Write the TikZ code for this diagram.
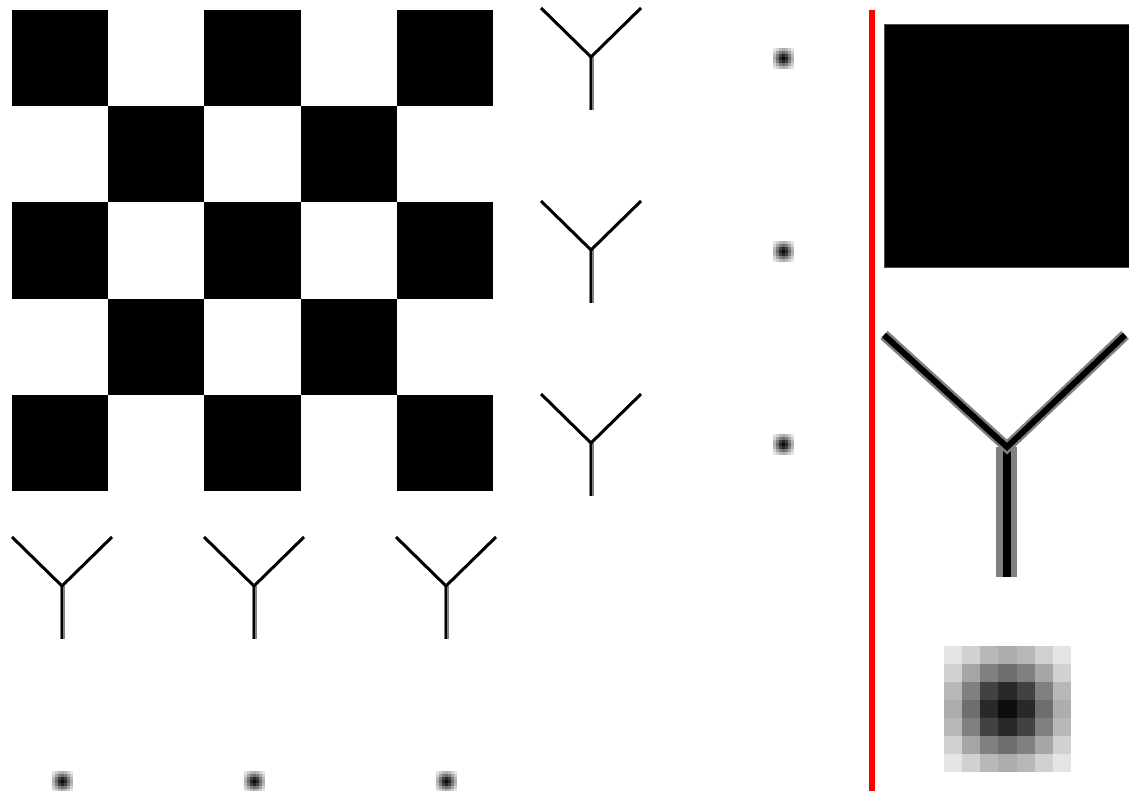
\documentclass[tikz,border=0pt]{standalone}
\begin{document}
\begin{tikzpicture}[x=1pt,y=-1pt,
  blk/.style={fill=black},
  armline/.style={line width=3pt,black},
  stemgrey/.style={line width=5pt,black!50},
  stemcore/.style={line width=2.5pt,black},
  pics/smally/.style={code={
    \draw[stemgrey] (0,0) -- (0,53);
    \draw[stemcore] (0,0) -- (0,53);
    \draw[armline] (-50,-49) -- (0,0) -- (50,-49);
  }},
  pics/blur/.style={code={
    \foreach \r in {0,...,6}{
      \foreach \c in {0,...,6}{
        \pgfmathtruncatemacro\gv{{10,18,28,32,28,18,10,18,35,50,57,50,35,18,28,50,74,84,74,50,28,32,57,84,95,84,57,32,28,50,74,84,74,50,28,18,35,50,57,50,35,18,10,18,28,32,28,18,10}[\r*7+\c]}
        \fill[black!\gv] ({(\c-3.5)*#1},{(\r-3.5)*#1}) rectangle ++(#1,#1);
      }
    }
  }}
]
\useasboundingbox (0,0) rectangle (1129,791);
\fill[white] (0,0) rectangle (1129,791);
% checkerboard
\foreach \r in {0,...,4}{
  \foreach \c in {0,...,4}{
    \pgfmathtruncatemacro\parity{mod(\r+\c,2)}
    \ifnum\parity=0
      \fill[blk] ({12+\c*96.2},{10+\r*96.2}) rectangle ++(96.2,96.2);
    \fi
  }
}
% right column of Ys
\pic at (591,57) {smally};
\pic at (591,250) {smally};
\pic at (591,443) {smally};
% bottom row of Ys
\pic at (62,586) {smally};
\pic at (254,586) {smally};
\pic at (446,586) {smally};
% dots
\pic at (783,59) {blur=3};
\pic at (783,252) {blur=3};
\pic at (783,444) {blur=3};
\pic at (62,781) {blur=3};
\pic at (254,781) {blur=3};
\pic at (446,781) {blur=3};
% red separator
\draw[red,line width=6pt] (872,10) -- (872,791);
% big black square
\fill[black,draw=black!70,line width=1pt] (884,25) rectangle (1130,268);
% big Y
\draw[line width=21pt,black!50] (1006,447) -- (1006,577);
\draw[line width=8pt,black] (1007,447) -- (1007,577);
\draw[line width=11pt,black!50] (884,335) -- (1007,447) -- (1125,335);
\draw[line width=6pt,black] (884,335) -- (1007,447) -- (1125,335);
% big blurred square
\pic at (1007.5,709) {blur=18.1};
\end{tikzpicture}
\end{document}
